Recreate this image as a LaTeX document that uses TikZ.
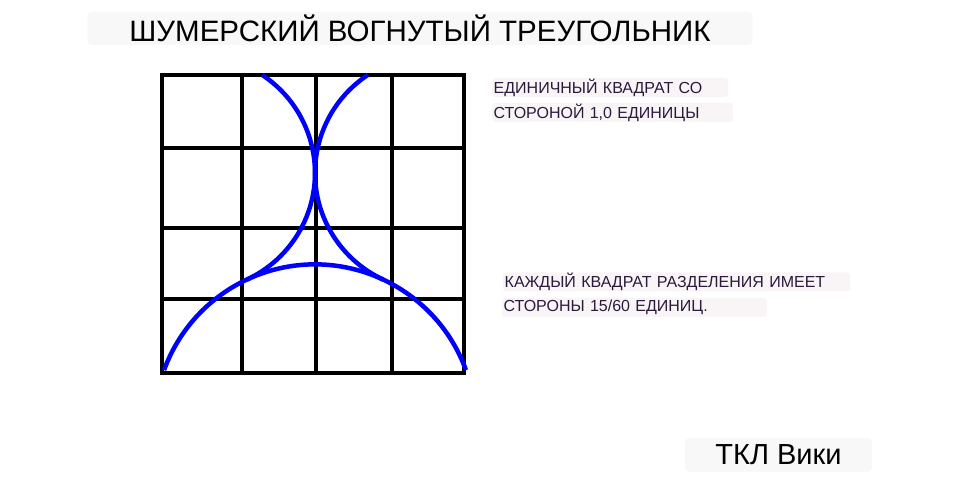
\documentclass[tikz,border=0pt]{standalone}
\usepackage{fontspec}
\setmainfont{Liberation Sans}
\usepackage{tikz}

\definecolor{boxgray}{HTML}{F8F8F8}
\definecolor{boxpink}{HTML}{F9F5F7}
\definecolor{notetext}{HTML}{2B1B3B}

\begin{document}
\begin{tikzpicture}[x=1bp,y=1bp]

\tikzset{grid line/.style = {line width=4bp, line cap=rect}}
\tikzset{arc line/.style = {blue, line width=4.5bp}}
\tikzset{note/.style = {fill=boxpink, rounded corners=3bp, anchor=west, align=left,
  inner xsep=1.5bp, inner ysep=0bp, minimum height=19bp, text=notetext,
  font=\fontsize{16bp}{18bp}\selectfont}}
\tikzset{banner/.style = {fill=boxgray, rounded corners=4bp, inner sep=0bp, align=center}}

\useasboundingbox (0,0) rectangle (965,497);

%title
\node[banner, minimum width=665bp, minimum height=33bp,
  font=\fontsize{29.5bp}{31bp}\selectfont] (title) at (420,468.5) {ШУМЕРСКИЙ ВОГНУТЫЙ ТРЕУГОЛЬНИК};

%grid
\foreach \x in {162,242,316,392,464}
  \draw[grid line] (\x,124) -- (\x,422);
\foreach \y in {124,198,269,349,422}
  \draw[grid line] (162,\y) -- (464,\y);

%arcs
\draw[arc line] (315,72) ++(20:160.6) arc[start angle=20, end angle=160, radius=160.6];
\draw[arc line] (197.6,324) ++(56.6:117.4) arc[start angle=56.6, end angle=-65, radius=117.4];
\draw[arc line] (432.4,324) ++(123.4:117.4) arc[start angle=123.4, end angle=245, radius=117.4];

%notes
\node[note, text width=233bp] (unit1) at (492,409.5) {ЕДИНИЧНЫЙ КВАДРАТ СО};
\node[note, text width=238bp] (unit2) at (492,384.5) {СТОРОНОЙ 1,0 ЕДИНИЦЫ};
\node[note, text width=344bp] (part1) at (503,215) {КАЖДЫЙ КВАДРАТ РАЗДЕЛЕНИЯ ИМЕЕТ};
\node[note, text width=262bp] (part2) at (502,189.5) {СТОРОНЫ 15/60 ЕДИНИЦ.};

%signature
\node[banner, minimum width=187bp, minimum height=34bp,
  font=\fontsize{29bp}{31bp}\selectfont] (wiki) at (778.5,42) {ТКЛ Вики};

\end{tikzpicture}
\end{document}
